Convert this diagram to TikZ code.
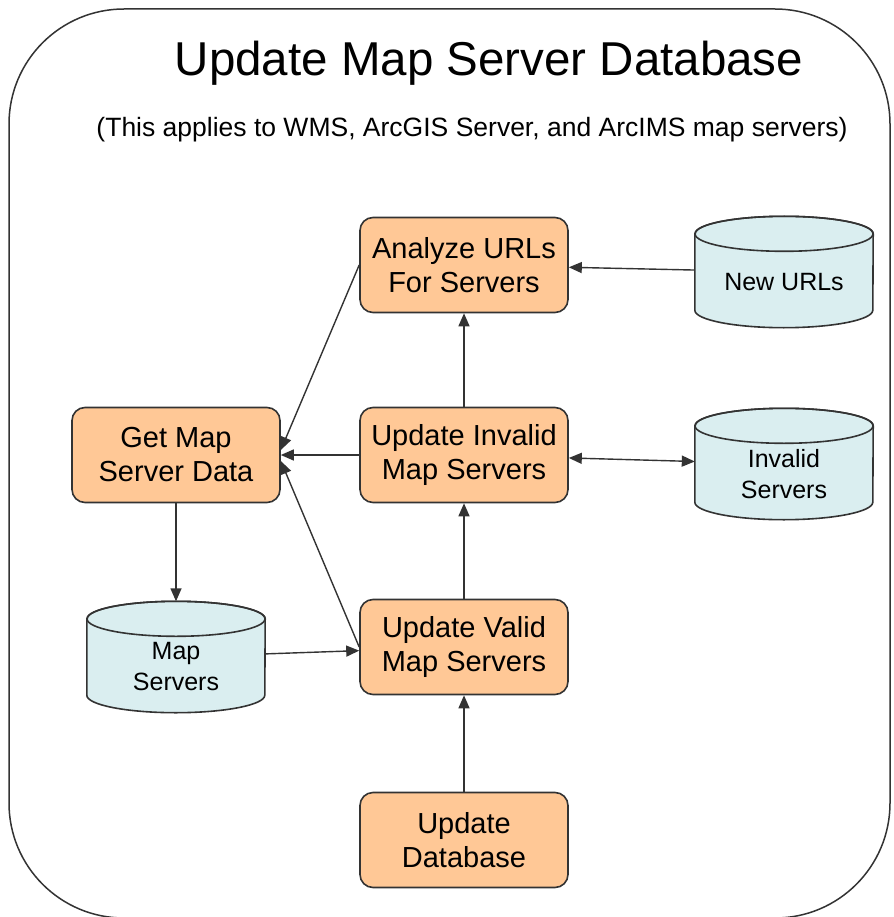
\documentclass[tikz,border=0pt]{standalone}
\usepackage{fontspec}
\setmainfont{Liberation Sans}
\usetikzlibrary{arrows.meta,backgrounds}
\definecolor{procfill}{HTML}{FFC896}
\definecolor{storefill}{HTML}{DAEEF0}
\definecolor{edgegray}{HTML}{333333}

% drum outline round a named store node
\newcommand{\drum}[1]{%
  \filldraw [fill=storefill, draw=edgegray, line width=1.6pt]
    ([yshift=-17.5pt]#1.north west) -- ([yshift=17.5pt]#1.south west)
    arc (180:360:89pt and 17.5pt) -- ([yshift=-17.5pt]#1.north east)
    arc (0:180:89pt and 17.5pt) -- cycle;
  \draw [draw=edgegray, line width=1.6pt] ([yshift=-17.5pt]#1.north) ellipse (89pt and 17.5pt);
}

\begin{document}
\begin{tikzpicture}[x=1pt,y=-1pt,
  proc/.style={rectangle, rounded corners=13pt, fill=procfill, draw=edgegray, line width=1.6pt,
    minimum width=208pt, minimum height=95pt, align=center, font=\fontsize{29}{34}\selectfont},
  store/.style={rectangle, minimum width=178pt, minimum height=111pt, inner sep=0pt},
  storetext/.style={align=center, yshift=-10pt, font=\fontsize{25}{31}\selectfont},
  flow/.style={-{Triangle[length=13pt,width=11pt]}, line width=1.4pt, draw=edgegray}]
\useasboundingbox (0,0) rectangle (893,917);
\draw [line width=1.5pt, draw=edgegray, rounded corners=115pt] (9,9) rectangle (890,918);
\node (title) at (489,63) {\fontsize{47.5}{50}\selectfont Update Map Server Database};
\node (subtitle) at (472,130) {\fontsize{26.5}{30}\selectfont (This applies to WMS, ArcGIS Server, and ArcIMS map servers)};
% processes
\node [proc] (analyze) at (464,265) {Analyze URLs\\For Servers};
\node [proc] (updinvalid) at (464,455) {Update Invalid\\Map Servers};
\node [proc] (updvalid) at (464,647) {Update Valid\\Map Servers};
\node [proc] (upddb) at (464,840) {Update\\Database};
\node [proc] (getmap) at (176,455) {Get Map\\Server Data};
% data stores
\node [store, label={[storetext]center:New URLs}] (newurls) at (784,272) {};
\node [store, label={[storetext]center:Invalid\\Servers}] (invalid) at (784,464) {};
\node [store, label={[storetext]center:Map\\Servers}] (mapservers) at (176,657) {};
\begin{scope}[on background layer]
  \drum{newurls}
  \drum{invalid}
  \drum{mapservers}
\end{scope}
% connectors
\draw [flow] (newurls) -- (analyze);
\draw [flow, {Triangle[length=13pt,width=11pt]}-{Triangle[length=13pt,width=11pt]}] (updinvalid) -- (invalid);
\draw [flow] (updinvalid) -- (analyze);
\draw [flow] (updinvalid) -- (getmap);
\draw [flow] (analyze.west) -- ([yshift=5pt]getmap.east);
\draw [flow] (updvalid.west) -- ([yshift=-6pt]getmap.east);
\draw [flow] (updvalid) -- (updinvalid);
\draw [flow] (upddb) -- (updvalid);
\draw [flow] (getmap) -- (mapservers);
\draw [flow] (mapservers) -- (updvalid);
\end{tikzpicture}
\end{document}
